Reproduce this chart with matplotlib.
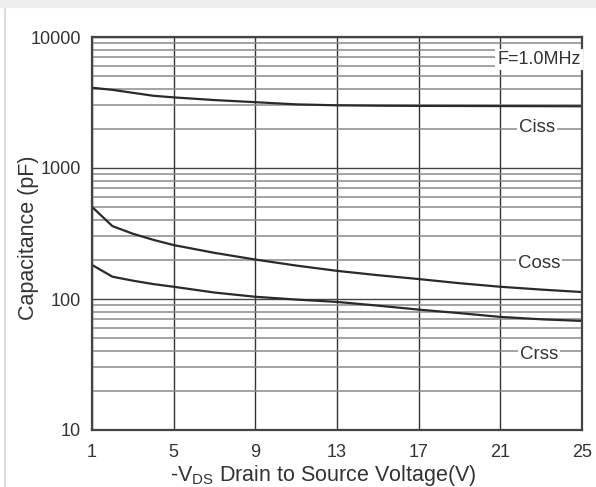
#!/usr/bin/env python3

import numpy as np
import matplotlib
matplotlib.use('Agg')
import matplotlib.pyplot as plt
from matplotlib.ticker import FixedLocator, NullFormatter

plt.rcParams['font.family'] = ['Liberation Sans', 'DejaVu Sans']

# capacitance curves (pF)
vds = [1, 2, 3, 4, 5, 7, 9, 11, 13, 15, 17, 19, 21, 23, 25]
ciss = [4100, 3950, 3750, 3560, 3460, 3300, 3180, 3060, 3010, 2990, 2980,
        2975, 2970, 2965, 2960]
coss = [505, 360, 315, 283, 258, 225, 200, 180, 164, 152, 142, 132, 124,
        118, 113]
crss = [182, 148, 138, 130, 124, 112, 104, 99, 95, 89, 83, 78, 73, 70, 68]

x_ticks = [1, 5, 9, 13, 17, 21, 25]
y_ticks = [10, 100, 1000, 10000]
y_ticklabels = ['10', '100', '1000', '10000']

fig = plt.figure(figsize=(5.96, 4.87), dpi=100)
ax = fig.add_axes([92 / 596, 1 - 430 / 487, 490 / 596, 393 / 487])

ax.set_yscale('log')
ax.set_xlim(1, 25)
ax.set_ylim(10, 10000)

# log grid lines
minor = [m * 10 ** d for d in range(1, 4) for m in range(2, 10)]
ax.yaxis.set_minor_locator(FixedLocator(minor))
ax.yaxis.set_minor_formatter(NullFormatter())
ax.set_yticks(y_ticks)
ax.set_yticklabels(y_ticklabels)
ax.set_xticks(x_ticks)
ax.grid(which='major', axis='x', color='#333333', lw=1.0)
ax.grid(which='major', axis='y', color='#444444', lw=1.0)
ax.grid(which='minor', axis='y', color='#8a8a8a', lw=1.1)
ax.tick_params(which='both', length=0, labelsize=13, colors='#333333')
ax.tick_params(axis='x', pad=10)
ax.tick_params(axis='y', pad=8)

for s in ax.spines.values():
    s.set_color('#444444')
    s.set_linewidth(1.6)

lc = '#2a2a2a'
ax.plot(vds, ciss, color=lc, lw=1.6)
ax.plot(vds, coss, color=lc, lw=1.6)
ax.plot(vds, crss, color=lc, lw=1.6)

box = dict(facecolor='white', edgecolor='none', pad=1.5)
ax.text(22.9, 6700, 'F=1.0MHz', fontsize=13, color='#333333',
        ha='center', va='center', bbox=box)
ax.text(22.8, 2050, 'Ciss', fontsize=13.5, color='#333333',
        ha='center', va='center', bbox=box)
ax.text(22.9, 186, 'Coss', fontsize=13.5, color='#333333',
        ha='center', va='center', bbox=box)
ax.text(22.9, 38, 'Crss', fontsize=13.5, color='#333333',
        ha='center', va='center', bbox=box)

ax.set_ylabel('Capacitance (pF)', fontsize=15.5, color='#333333')
ax.set_xlabel(r'-V$_{\mathregular{DS}}$ Drain to Source Voltage(V)',
              fontsize=15.5, color='#333333')
ax.yaxis.set_label_coords(-0.108, 0.49)
ax.xaxis.set_label_coords(0.473, -0.083)

# light scan frame
fig.add_artist(plt.Line2D([5 / 596, 5 / 596], [0, 1], color='#dddddd',
                          lw=1.5, transform=fig.transFigure))
fig.add_artist(plt.Line2D([0, 1], [1 - 4 / 487, 1 - 4 / 487],
                          color='#eeeeee', lw=6, transform=fig.transFigure))

fig.savefig('out.png', dpi=100)
